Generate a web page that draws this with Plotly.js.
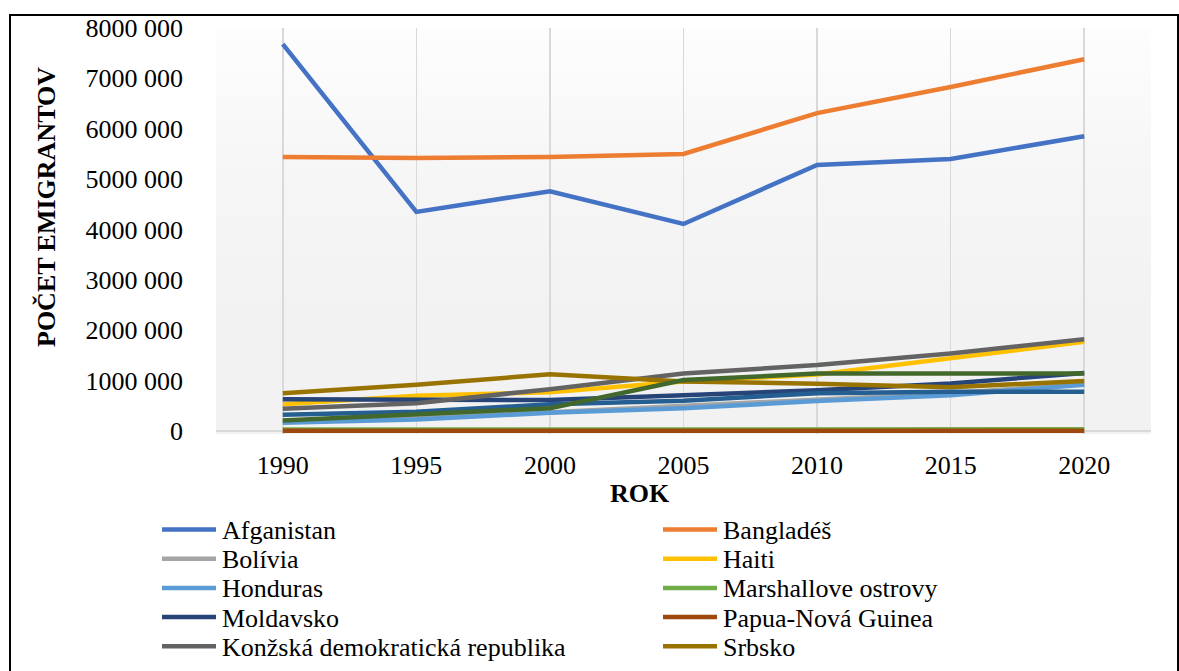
<!DOCTYPE html>
<html>
<head>
<meta charset="utf-8">
<script src="https://cdn.plot.ly/plotly-3.0.1.min.js"></script>
<style>
  html, body { margin: 0; padding: 0; background: #ffffff; }
  #wrap { position: relative; width: 1179px; height: 671px; overflow: hidden; }
  #bg { position: absolute; left: 216px; top: 28px; width: 935px; height: 406px;
        background: linear-gradient(to bottom, #fdfdfd 0%, #f6f6f6 35%, #f2f2f2 70%, #f2f2f2 100%); }
  #chart { position: absolute; left: 0; top: 0; width: 1179px; height: 671px; }
  #frame { position: absolute; left: 9px; top: 14px; width: 1166px; height: 700px;
           border: 2px solid #000; pointer-events: none; }
</style>
</head>
<body>
<div id="wrap">
  <div id="bg"></div>
  <div id="chart"></div>
  <div id="frame"></div>
</div>
<script>
// ---- data ----
var years = ['1990', '1995', '2000', '2005', '2010', '2015', '2020'];

var afganistan = [7680000, 4350000, 4760000, 4110000, 5280000, 5400000, 5850000];
var banglades  = [5440000, 5420000, 5440000, 5500000, 6310000, 6830000, 7380000];
var bolivia    = [200000, 270000, 370000, 500000, 640000, 750000, 930000];
var haiti      = [530000, 700000, 770000, 980000, 1120000, 1440000, 1770000];
var honduras   = [165000, 230000, 360000, 450000, 595000, 710000, 920000];
var marshall   = [28000, 30000, 30000, 32000, 32000, 33000, 34000];
var moldavsko  = [630000, 630000, 615000, 710000, 810000, 945000, 1150000];
var papua      = [4000, 4000, 5000, 5000, 5000, 6000, 6000];
var konzska    = [440000, 550000, 830000, 1140000, 1310000, 1540000, 1820000];
var srbsko     = [750000, 920000, 1125000, 980000, 940000, 870000, 990000];
var series11   = [320000, 380000, 530000, 600000, 750000, 780000, 780000];
var series12   = [210000, 330000, 450000, 1010000, 1140000, 1140000, 1140000];

var seriesNames = ['Afganistan', 'Bangladéš', 'Bolívia', 'Haiti', 'Honduras',
                   'Marshallove ostrovy', 'Moldavsko', 'Papua-Nová Guinea',
                   'Konžská demokratická republika', 'Srbsko', '', ''];
var seriesValues = [afganistan, banglades, bolivia, haiti, honduras, marshall,
                    moldavsko, papua, konzska, srbsko, series11, series12];
var seriesColors = ['#4472c4', '#ed7d31', '#a5a5a5', '#ffc000', '#5b9bd5', '#70ad47',
                    '#264478', '#9e480e', '#636363', '#997300', '#255e91', '#43682b'];
var legendCount = 10; // entries visible in the picture

var yTickVals = [0, 1000000, 2000000, 3000000, 4000000, 5000000, 6000000, 7000000, 8000000];
var yTickText = ['0', '1000 000', '2000 000', '3000 000', '4000 000', '5000 000',
                 '6000 000', '7000 000', '8000 000'];

var xTitle = 'ROK';
var yTitle = 'POČET EMIGRANTOV';

// ---- layout helpers (pixel -> paper) ----
var W = 1179, H = 671;
var mL = 216, mR = 28, mT = 28, mB = 237;
var pw = W - mL - mR, ph = H - mT - mB;
function px(x) { return (x - mL) / pw; }
function py(y) { return (H - mB - y) / ph; }

var FONT = '"Times New Roman", "Liberation Serif", Times, serif';

var traces = seriesValues.map(function (vals, i) {
  return {
    type: 'scatter', mode: 'lines',
    x: years, y: vals,
    name: seriesNames[i] || ('Séria ' + (i + 1)),
    line: { color: seriesColors[i], width: 4.5 },
    showlegend: false,
    hoverinfo: 'skip'
  };
});

var shapes = [], annotations = [];
for (var i = 0; i < legendCount; i++) {
  var row = Math.floor(i / 2), col = i % 2;
  var cy = 529.5 + row * 29.2;
  var lx0 = col === 0 ? 162 : 663;
  shapes.push({
    type: 'line', xref: 'paper', yref: 'paper',
    x0: px(lx0), x1: px(lx0 + 54), y0: py(cy), y1: py(cy),
    line: { color: seriesColors[i], width: 4.5 }
  });
  annotations.push({
    xref: 'paper', yref: 'paper', x: px(lx0 + 58), y: py(cy + 1),
    xanchor: 'left', yanchor: 'middle', showarrow: false,
    text: seriesNames[i], font: { family: FONT, size: 26, color: '#000' }
  });
}
annotations.push({
  xref: 'paper', yref: 'paper', x: px(640), y: py(493),
  xanchor: 'center', yanchor: 'middle', showarrow: false,
  text: '<b>' + xTitle + '</b>', font: { family: FONT, size: 26, color: '#000' }
});
annotations.push({
  xref: 'paper', yref: 'paper', x: px(47), y: py(207),
  xanchor: 'center', yanchor: 'middle', showarrow: false, textangle: -90,
  text: '<b>' + yTitle + '</b>', font: { family: FONT, size: 26, color: '#000' }
});

var layout = {
  width: W, height: H,
  margin: { l: mL, r: mR, t: mT, b: mB, pad: 0 },
  paper_bgcolor: 'rgba(0,0,0,0)',
  plot_bgcolor: 'rgba(0,0,0,0)',
  showlegend: false,
  font: { family: FONT, size: 26, color: '#000' },
  xaxis: {
    type: 'category', range: [-0.5, 6.5],
    showgrid: true, gridcolor: '#d9d9d9', gridwidth: 1.5,
    showline: false, zeroline: false, ticks: '',
    ticklabelstandoff: 13,
    tickfont: { family: FONT, size: 26, color: '#000' }
  },
  yaxis: {
    range: [-60000, 8000000],
    tickmode: 'array', tickvals: yTickVals, ticktext: yTickText,
    showgrid: false, zeroline: true, zerolinecolor: '#d9d9d9', zerolinewidth: 1.5,
    showline: false, ticks: '',
    ticklabelstandoff: 32,
    tickfont: { family: FONT, size: 26, color: '#000' }
  },
  shapes: shapes,
  annotations: annotations
};

Plotly.newPlot('chart', traces, layout, { displayModeBar: false, staticPlot: true });
</script>
</body>
</html>
